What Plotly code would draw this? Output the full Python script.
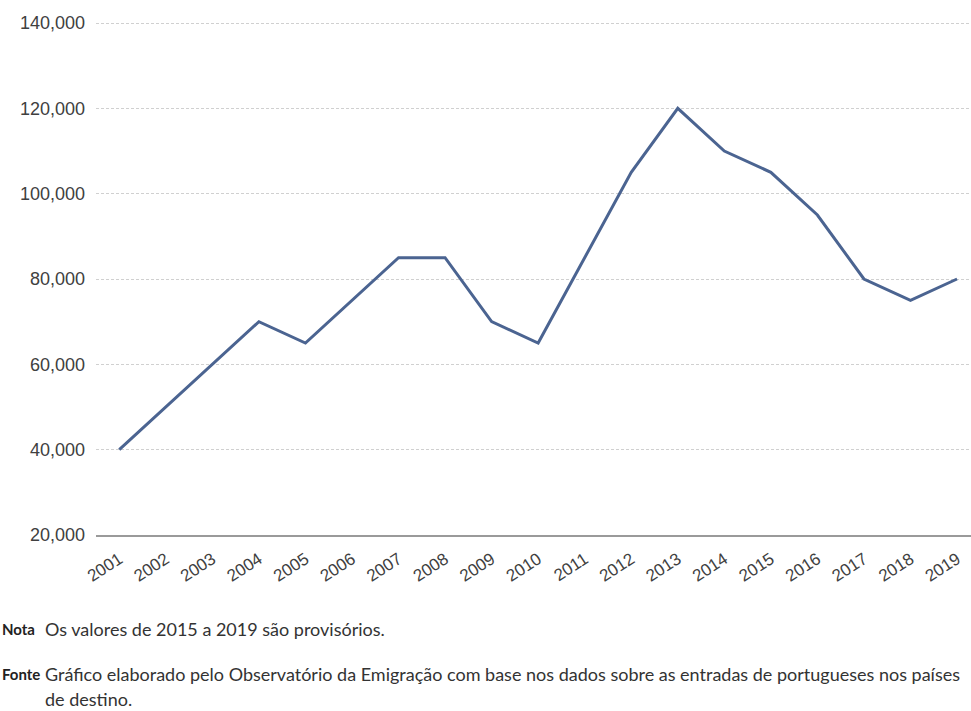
import plotly.graph_objects as go

# Entradas de portugueses nos países de destino, 2001-2019
years = [str(y) for y in range(2001, 2020)]
entries = [40000, 50000, 60000, 70000, 65000, 75000, 85000, 85000, 70000, 65000,
           85000, 105000, 120000, 110000, 105000, 95000, 80000, 75000, 80000]
y_ticks = [20000, 40000, 60000, 80000, 100000, 120000, 140000]

W, H = 971, 711
ML, MR, MT, MB = 96, 0, 21, 176
PW = W - ML - MR
PH = H - MT - MB
Y_MAX = 140000 + 2 * 120000 / 512  # a little headroom so the top gridline is drawn

fig = go.Figure()
fig.add_trace(go.Scatter(
    x=years, y=entries, mode="lines",
    line=dict(color="#4b6491", width=3),
    hoverinfo="x+y", showlegend=False,
))

tick_font = dict(family="Liberation Sans, Arial, sans-serif", color="#404040")

fig.update_layout(
    width=W, height=H,
    margin=dict(l=ML, r=MR, t=MT, b=MB, pad=0),
    paper_bgcolor="white", plot_bgcolor="white",
    xaxis=dict(
        type="category", range=[-0.5, 18.3],
        showgrid=False, zeroline=False,
        showline=True, linecolor="#9a9a9a", linewidth=1.5,
        tickangle=-33, ticks="outside", ticklen=6, tickcolor="rgba(0,0,0,0)",
        tickfont=dict(size=17, **tick_font),
    ),
    yaxis=dict(
        range=[20000, Y_MAX], tickvals=y_ticks, tickformat=",d",
        showgrid=True, gridcolor="#d0d0d0", gridwidth=1, griddash="3px,2px",
        zeroline=False, showline=False, ticks="",
        ticklabelstandoff=10, tickfont=dict(size=18, **tick_font),
    ),
)

def px_x(px):
    return (px - ML) / PW

def px_y(py):
    return (H - MB - py) / PH

label_font = dict(family="Lato, Open Sans, sans-serif", size=15, color="#222222")
body_font = dict(family="Lato, Open Sans, sans-serif", size=18, color="#333333")
notes = [
    ("<b>Nota</b>", 0, 629, label_font),
    ("Os valores de 2015 a 2019 são provisórios.", 43, 629, body_font),
    ("<b>Fonte</b>", 0, 674, label_font),
    ("Gráfico elaborado pelo Observatório da Emigração com base nos dados sobre as entradas de portugueses nos países", 43, 674, body_font),
    ("de destino.", 43, 699, body_font),
]
for text, px, py, font in notes:
    fig.add_annotation(
        text=text, xref="paper", yref="paper", x=px_x(px), y=px_y(py),
        xanchor="left", yanchor="middle", showarrow=False, font=font,
    )

fig.write_html("out.html")
